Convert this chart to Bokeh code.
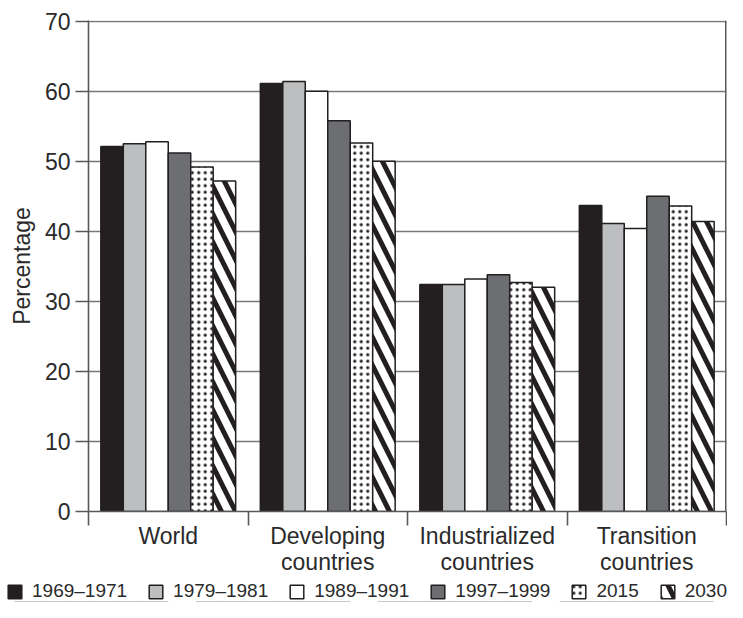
from bokeh.plotting import figure
from bokeh.models import (Range1d, FixedTicker, Legend, LegendItem, Span,
                          ColumnDataSource)
from bokeh.layouts import column
from bokeh.embed import file_html
from bokeh.resources import INLINE

# ---- data ----
groups = ["World", "Developing\ncountries", "Industrialized\ncountries", "Transition\ncountries"]
periods = ["1969\u20131971", "1979\u20131981", "1989\u20131991", "1997\u20131999", "2015", "2030"]
world = [52.1, 52.5, 52.8, 51.2, 49.2, 47.2]
developing = [61.1, 61.4, 60.0, 55.8, 52.6, 50.0]
industrialized = [32.4, 32.4, 33.2, 33.8, 32.7, 32.0]
transition = [43.7, 41.1, 40.4, 45.0, 43.6, 41.4]
series_by_group = [world, developing, industrialized, transition]

FONT = "Liberation Sans"
TXT = "#2a2a2a"
AX = "#58595b"

fills = ["#231f20", "#bcbec0", "#ffffff", "#6d6e71", "#ffffff", "#ffffff"]
hatches = [None, None, None, None, "dot", "left_diagonal_line"]
hscale = [12, 12, 12, 12, 6.5, 28]
hweight = [1, 1, 1, 1, 4, 5]

W = 727
p = figure(width=W, height=580, output_backend="svg", toolbar_location=None,
           x_range=Range1d(0, 4), y_range=Range1d(0, 70.1),
           min_border_left=88, min_border_right=1, min_border_top=20,
           min_border_bottom=69)
p.outline_line_color = None
p.frame_align = False

# grid
p.xgrid.visible = False
p.ygrid.grid_line_color = "#77787b"
p.ygrid.grid_line_width = 1.6
p.ygrid.ticker = FixedTicker(ticks=[10, 20, 30, 40, 50, 60, 70])

# y axis
p.yaxis.ticker = FixedTicker(ticks=[0, 10, 20, 30, 40, 50, 60, 70])
p.yaxis.axis_label = "Percentage"
p.yaxis.axis_label_text_font = FONT
p.yaxis.axis_label_text_font_size = "23px"
p.yaxis.axis_label_text_font_style = "normal"
p.yaxis.axis_label_text_color = TXT
p.yaxis.axis_label_standoff = 7
p.yaxis.major_label_text_font = FONT
p.yaxis.major_label_text_font_size = "23px"
p.yaxis.major_label_text_color = TXT
p.yaxis.major_label_standoff = 5
p.yaxis.major_tick_out = 13
p.yaxis.major_tick_in = 0
p.yaxis.minor_tick_line_color = None
p.yaxis.axis_line_color = AX
p.yaxis.axis_line_width = 1.6
p.yaxis.major_tick_line_color = AX
p.yaxis.major_tick_line_width = 1.6

# x axis
centers = [i + 0.5 for i in range(len(groups))]
bounds = [float(i) for i in range(len(groups) + 1)]
p.xaxis.ticker = FixedTicker(ticks=centers, minor_ticks=bounds)
p.xaxis.major_label_overrides = {c: g for c, g in zip(centers, groups)}
p.xaxis.major_label_text_font = FONT
p.xaxis.major_label_text_font_size = "23px"
p.xaxis.major_label_text_color = TXT
p.xaxis.major_label_text_line_height = 1.0
p.xaxis.major_label_standoff = -3
p.xaxis.major_tick_out = 0
p.xaxis.major_tick_in = 0
p.xaxis.major_tick_line_color = None
p.xaxis.minor_tick_out = 14
p.xaxis.minor_tick_in = 0
p.xaxis.minor_tick_line_color = AX
p.xaxis.minor_tick_line_width = 1.6
p.xaxis.axis_line_color = AX
p.xaxis.axis_line_width = 1.6

# bars
bw = 0.1409
styles, sources = [], []
for k, per in enumerate(periods):
    xs = [c + (k - 2.5) * bw for c in centers]
    tops = [s[k] for s in series_by_group]
    src = ColumnDataSource(dict(x=xs, top=tops))
    kw = dict(fill_color=fills[k], line_color="#231f20", line_width=1.5)
    if hatches[k]:
        kw.update(hatch_pattern=hatches[k], hatch_color="#231f20",
                  hatch_scale=hscale[k], hatch_weight=hweight[k])
    styles.append(kw)
    sources.append(src)
    p.vbar(x="x", top="top", bottom=0, width=bw, source=src, **kw)

# right border
p.add_layout(Span(location=4, dimension="height", line_color=AX, line_width=3))

# legend strip: a second figure without axes whose view range lies far above
# the bars, so only the legend swatches of the same series are shown
lg = figure(width=W, height=22, output_backend="svg", toolbar_location=None,
            x_axis_type=None, y_axis_type=None,
            x_range=Range1d(0, 4), y_range=Range1d(1000, 1100),
            min_border=0, min_border_left=0, min_border_right=0,
            min_border_top=0, min_border_bottom=0)
lg.frame_align = False
lg.grid.visible = False
lg.outline_line_color = None
items = []
for k, per in enumerate(periods):
    r = lg.vbar(x="x", top="top", bottom=0, width=bw, source=sources[k], **styles[k])
    items.append(LegendItem(label=per, renderers=[r]))
legend = Legend(items=items, orientation="horizontal", location=(6, 0),
                glyph_width=17, glyph_height=17, label_height=17,
                label_standoff=9, spacing=20, padding=0, margin=0,
                label_text_font=FONT, label_text_font_size="19px",
                label_text_color=TXT, border_line_color=None,
                background_fill_alpha=0)
lg.add_layout(legend, "center")

layout = column(p, lg, spacing=0)
open("out.html", "w").write(file_html(layout, INLINE))
